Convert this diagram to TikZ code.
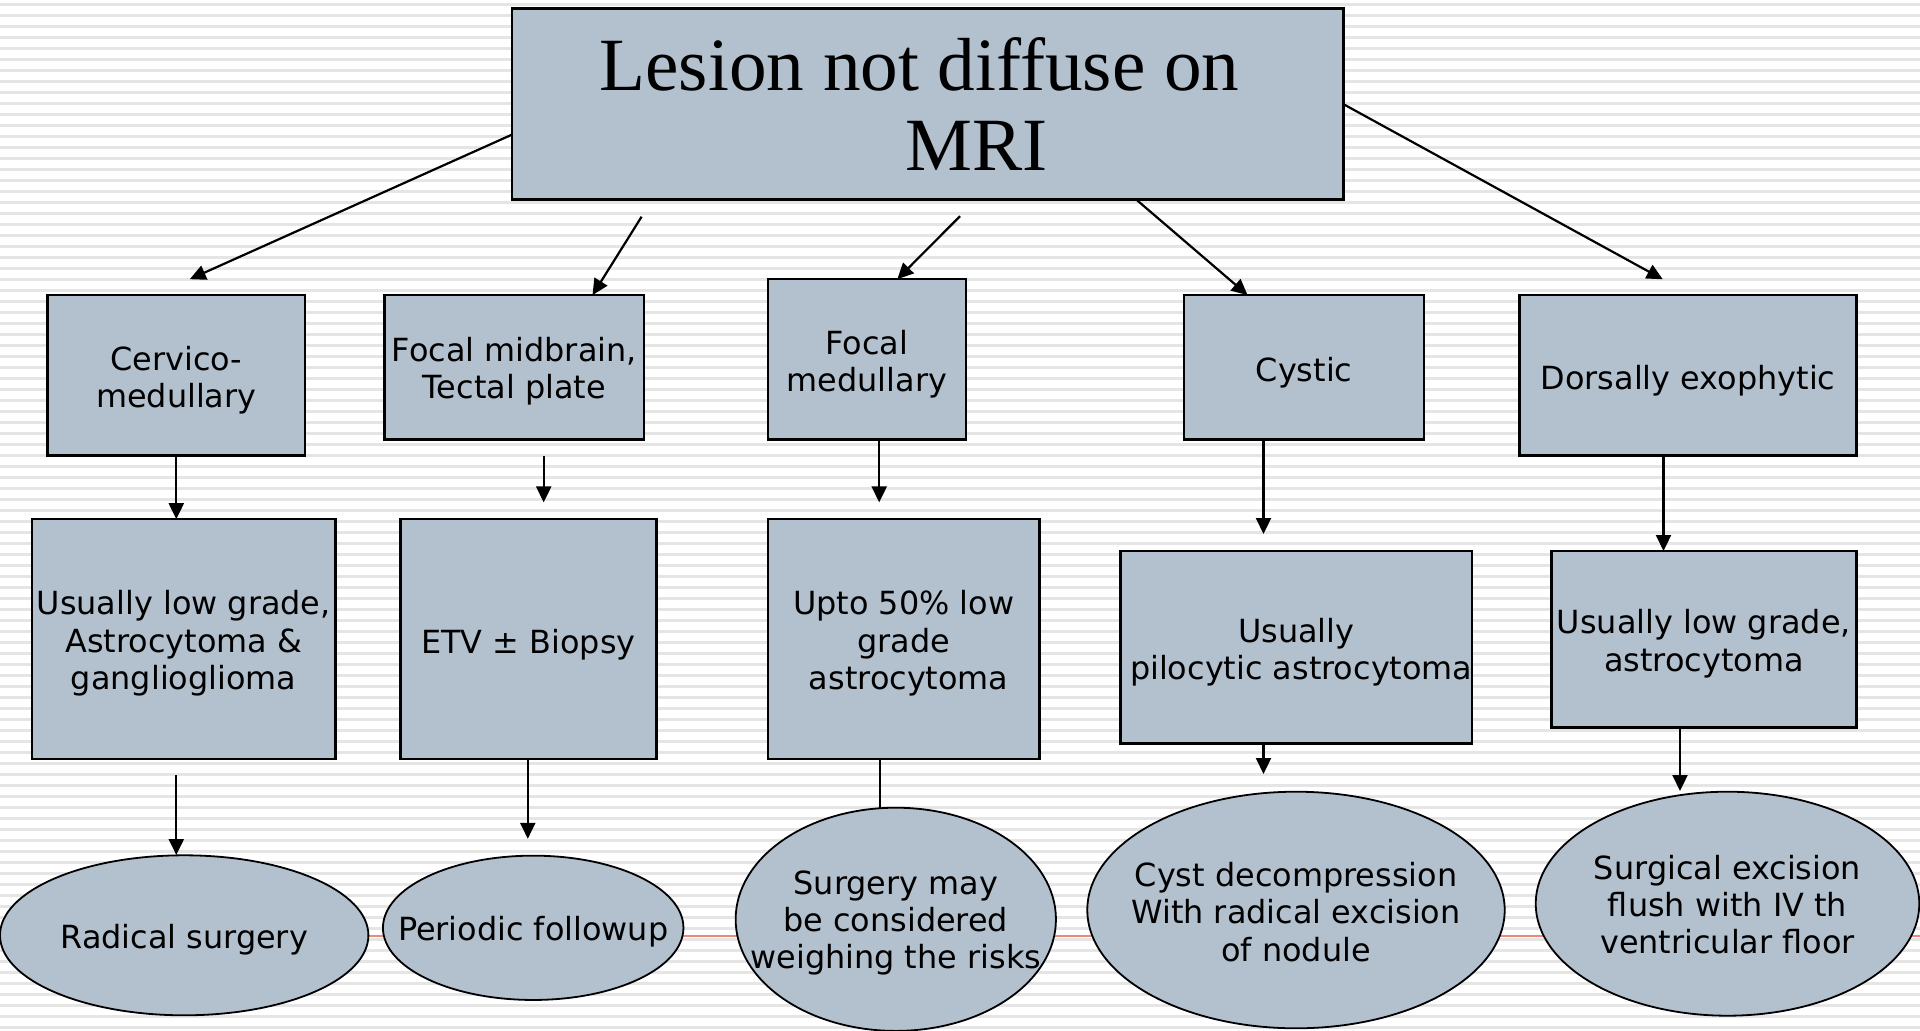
\documentclass[tikz,border=0pt]{standalone}
\usepackage{fontspec}
\setmainfont{DejaVu Sans}
\newfontfamily\titlefont{Liberation Serif}
\usetikzlibrary{shapes.geometric, arrows.meta}
\definecolor{boxfill}{RGB}{179,192,206}
\definecolor{stripecol}{RGB}{229,229,229}
\definecolor{redlinecol}{RGB}{232,137,122}
\begin{document}
\begin{tikzpicture}[x=1bp, y=-1bp,
  box/.style={draw=black, line width=2.5bp, fill=boxfill, inner sep=0pt},
  ell/.style={ellipse, draw=black, line width=1.8bp, fill=boxfill, inner sep=0pt},
  txt/.style={inner sep=0pt, align=center, font=\fontsize{32}{37.5}\selectfont},
  conn/.style={draw=black, line width=2.2bp},
  arr/.style={conn, -{Triangle[length=16bp, width=15bp]}}
]
\useasboundingbox (0,0) rectangle (1920,1030);
\fill[white] (0,0) rectangle (1920,1030);
\foreach \k in {0,...,93} \fill[stripecol] (0,{2.5+11*\k}) rectangle (1920,{5.5+11*\k});
\draw[redlinecol, line width=2bp] (0,935.7) -- (1920,935.7);

% title
\node[box, minimum width=831.5bp, minimum height=191bp, align=center, font=\titlefont\fontsize{75.5}{81}\selectfont] (title) at (927.5,104.1) {Lesion not diffuse on\hspace*{16bp}\\\hspace*{99bp}MRI};

% level 1
\node[box, minimum width=257.1bp, minimum height=160.4bp] (A1) at (176.3,375.3) {};
\node[txt] (A1t) at ([yshift=-5bp]A1.center) {Cervico-\\medullary};
\node[box, minimum width=259.6bp, minimum height=144.5bp] (A2) at (514.3,367.4) {};
\node[txt] (A2t) at ([yshift=-4bp]A2.center) {Focal midbrain,\\Tectal plate};
\node[box, minimum width=198.3bp, minimum height=160.4bp] (A3) at (867.0,359.4) {};
\node[txt] (A3t) at ([yshift=-5bp]A3.center) {Focal\\medullary};
\node[box, minimum width=240bp, minimum height=144.5bp] (A4) at (1304.1,367.4) {};
\node[txt] (A4t) at ([yshift=-5bp]A4.center) {Cystic};
\node[box, minimum width=336.7bp, minimum height=160.4bp] (A5) at (1688,375.3) {};
\node[txt] (A5t) at ([yshift=-5bp]A5.center) {Dorsally exophytic};

% level 2
\node[box, minimum width=303.7bp, minimum height=240bp] (B1) at (183.7,639.2) {};
\node[txt] (B1t) at ([yshift=-4bp]B1.center) {Usually low grade,\\Astrocytoma \&\\ganglioglioma};
\node[box, minimum width=255.9bp, minimum height=240bp] (B2) at (528.4,639.2) {};
\node[txt] (B2t) at ([yshift=-5bp]B2.center) {ETV ± Biopsy};
\node[box, minimum width=271.8bp, minimum height=240bp] (B3) at (903.7,639.2) {};
\node[txt] (B3t) at ([yshift=-4bp]B3.center) {Upto 50\% low\\grade\\\hspace*{10bp}astrocytoma};
\node[box, minimum width=351.5bp, minimum height=192.3bp] (B4) at (1296.2,647.2) {};
\node[txt] (B4t) at ([yshift=-5bp]B4.center) {Usually\\\hspace*{10bp}pilocytic astrocytoma};
\node[box, minimum width=304.9bp, minimum height=176.4bp] (B5) at (1703.9,639.2) {};
\node[txt] (B5t) at ([yshift=-4.5bp]B5.center) {Usually low grade,\\astrocytoma};

% level 3 ellipses
\node[ell, minimum width=368.4bp, minimum height=160bp] (E1) at (184.2,935.3) {};
\node[txt] (E1t) at (184.2,940) {Radical surgery};
\node[ell, minimum width=300.5bp, minimum height=144.3bp] (E2) at (533.2,927.8) {};
\node[txt] (E2t) at (533.2,932) {Periodic followup};
\node[ell, minimum width=320.3bp, minimum height=223.2bp] (E3) at (895.8,919.3) {};
\node[txt] (E3t) at (895.8,923) {Surgery may\\be considered\\weighing the risks};
\node[ell, minimum width=417.4bp, minimum height=236.6bp] (E4) at (1296,910) {};
\node[txt] (E4t) at (1296,912) {Cyst decompression\\With radical excision\\of nodule};
\node[ell, minimum width=383.6bp, minimum height=224bp] (E5) at (1727.5,903.7) {};
\node[txt] (E5t) at (1727.5,904.5) {Surgical excision\\flush with IV th\\ventricular floor};

% connector end points
\coordinate (s1) at (511.8,134.7);  \coordinate (t1) at (189.8,279.2);
\coordinate (s2) at (641.6,216.7);  \coordinate (t2) at (592.5,295.1);
\coordinate (s3) at (960,216.2);    \coordinate (t3) at (897.3,279.2);
\coordinate (s4) at (1136.3,199.6); \coordinate (t4) at (1247.6,295.1);
\coordinate (s5) at (1343.3,104.1); \coordinate (t5) at (1662.8,279.3);
\coordinate (u1) at (176.3,455.5);  \coordinate (d1) at (176.3,519.2);
\coordinate (u2) at (543.7,456);    \coordinate (d2) at (543.7,502.4);
\coordinate (u3) at (879.2,439.6);  \coordinate (d3) at (879.2,502.4);
\coordinate (u4) at (1263.5,439.6); \coordinate (d4) at (1263.5,534);
\coordinate (u5) at (1663.5,455.5); \coordinate (d5) at (1663.5,551);
\coordinate (p1) at (176.3,775.1);  \coordinate (q1) at (176.3,855);
\coordinate (p2) at (527.8,759.2);  \coordinate (q2) at (527.8,838.8);
\coordinate (p3) at (879.8,759.2);  \coordinate (q3) at (879.8,807.7);
\coordinate (p4) at (1263.5,743.3); \coordinate (q4) at (1263.5,774);
\coordinate (p5) at (1680,727.4);   \coordinate (q5) at (1680,791);

\draw[arr] (s1) -- (t1);
\draw[arr] (s2) -- (t2);
\draw[arr] (s3) -- (t3);
\draw[arr] (s4) -- (t4);
\draw[arr] (s5) -- (t5);
\draw[arr] (u1) -- (d1);
\draw[arr] (u2) -- (d2);
\draw[arr] (u3) -- (d3);
\draw[arr] (u4) -- (d4);
\draw[arr] (u5) -- (d5);
\draw[arr] (p1) -- (q1);
\draw[arr] (p2) -- (q2);
\draw[conn] (p3) -- (q3);
\draw[arr] (p4) -- (q4);
\draw[arr] (p5) -- (q5);
\end{tikzpicture}
\end{document}
